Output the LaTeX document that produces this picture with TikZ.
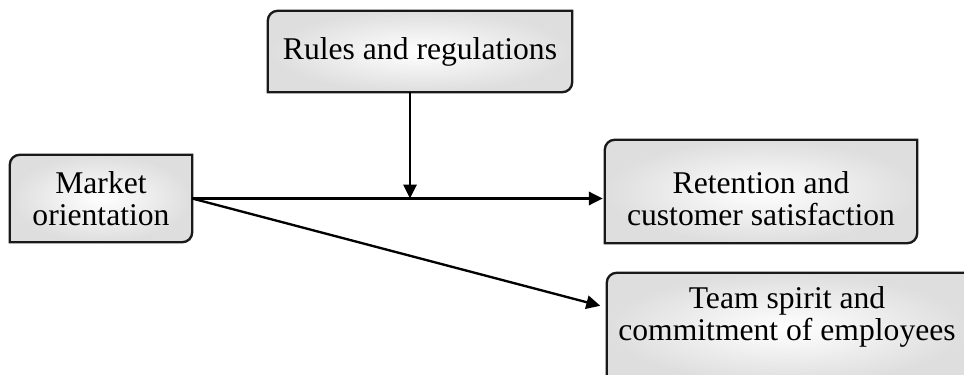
\documentclass[tikz,border=0pt]{standalone}
\usepackage{fontspec}
\setmainfont{Liberation Serif}
\usetikzlibrary{arrows.meta}

\tikzset{
  card/.style={align=center, inner sep=0pt, font=\fontsize{27}{27.3}\selectfont},
  cardframe/.style={draw=black!90, line width=2pt, inner color=white, outer color=black!13},
  link/.style={line width=2pt, -{Triangle[length=0.42cm,width=0.4cm]}},
}

% frame with rounded top left and bottom right corners, #2 = shift of the frame
\newcommand{\cardframe}[2]{%
  \shadedraw[cardframe] ([yshift=#2]#1.south west) -- ([yshift=#2-0.3cm]#1.north west)
    arc (180:90:0.3) -- ([yshift=#2]#1.north east) -- ([yshift=#2+0.3cm]#1.south east)
    arc (0:-90:0.3) -- cycle;}

\begin{document}
\begin{tikzpicture}
\useasboundingbox (0,0) rectangle (28.92,11.22);

% boxes first, text on top
\path (12.6,9.675) node[minimum width=9.12cm, minimum height=2.43cm] (rules) {}
      (3.03,5.265) node[minimum width=5.46cm, minimum height=2.61cm] (market) {}
      (22.83,5.25) node[minimum width=9.36cm, minimum height=3.09cm] (retention) {}
      (23.61,1.725) node[minimum width=10.8cm, minimum height=3.3cm] (team) {};
\cardframe{rules}{0cm}
\cardframe{market}{0cm}
\cardframe{retention}{0.225cm}
\cardframe{team}{-0.345cm}

\node[card] (rules-text) at (rules) {Rules and regulations};
\node[card] (market-text) at (market) {Market\\orientation};
\node[card] (retention-text) at (retention) {Retention and\\customer satisfaction};
\node[card] (team-text) at (team) {Team spirit and\\commitment of employees};

\draw[link, shorten >=0.06cm] (market.east) -- (market.east -| retention.west);
\draw[link] ([xshift=-0.3cm]rules.south) -- ([xshift=-0.3cm]rules.south |- market.east);
\draw[link, shorten >=0.2cm] (market.east) -- ([yshift=0.27cm]team.west);
\end{tikzpicture}
\end{document}
